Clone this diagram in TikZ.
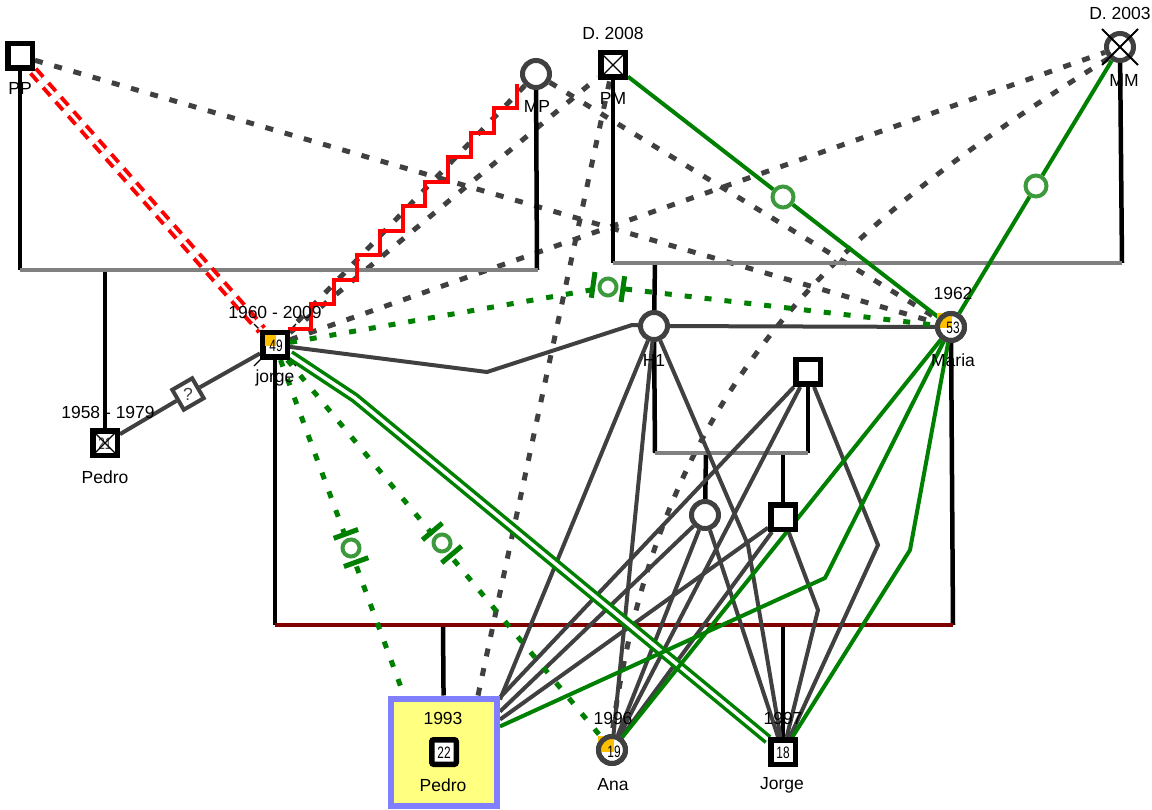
\documentclass[tikz,border=0pt]{standalone}
\usepackage{fontspec}
\usepackage{graphicx}
\setmainfont{Liberation Sans}
\usetikzlibrary{calc}
\pgfdeclarelayer{background}
\pgfsetlayers{background,main}

\definecolor{relgray}{HTML}{404040}
\definecolor{bargray}{HTML}{808080}
\definecolor{grn}{HTML}{008000}
\definecolor{lgrn}{HTML}{3C9A3C}
\definecolor{orng}{HTML}{FFC000}
\definecolor{dkred}{HTML}{800000}
\definecolor{boxfill}{HTML}{FFFF80}
\definecolor{boxedge}{HTML}{8080FF}

\newcommand{\agetxt}[1]{\scalebox{0.72}[1]{#1}}

\tikzset{
  pics/tiesym/.style={code={
    \draw[lgrn, line width=4pt, fill=white] (0,0) circle (8.5);
    \draw[grn, line width=5pt] (-15,-13) -- (-15,13);
    \draw[grn, line width=5pt] (15,-13) -- (15,13);
  }}
}

\begin{document}
\begin{tikzpicture}[x=1pt,y=-1pt,
  lbl/.style={font=\fontsize{17.5}{17.5}\selectfont, inner sep=0pt, text=black},
  num/.style={font=\fontsize{16.5}{16.5}\selectfont, inner sep=0pt, text=black},
  male/.style={rectangle, draw=black, line width=5.5pt, fill=white, minimum size=24.5pt, inner sep=0pt},
  female/.style={circle, draw=relgray, line width=5pt, fill=white, minimum size=27pt, inner sep=0pt},
  ring/.style={circle, draw=lgrn, line width=4pt, fill=white, minimum size=21pt, inner sep=0pt},
  kin/.style={black, line width=4.5pt},
  sib/.style={bargray, line width=4.5pt},
  rel/.style={relgray, line width=4pt},
  tie/.style={grn, line width=4pt},
  far/.style={relgray, line width=5pt, dash pattern=on 8pt off 12pt},
  gdot/.style={grn, line width=5pt, dash pattern=on 7pt off 13pt},
  cross/.style={black, line width=1.3pt},
]
\useasboundingbox (0,0) rectangle (1152,810);

% ---------- persons ----------
\node[male] (PP) at (20,56) {};
\node[lbl] (PPl) at (20,88) {PP};

\node[female] (MP) at (536,74) {};
\node[lbl] (MPl) at (537,106) {MP};

\node[male] (PM) at (613,65) {};
\draw[cross] ($(PM)+(-11,-11)$) -- ($(PM)+(11,11)$) ($(PM)+(11,-11)$) -- ($(PM)+(-11,11)$);
\node[lbl] (PMd) at (613,33) {D. 2008};
\node[lbl] (PMl) at (613,98) {PM};

\node[female] (MM) at (1120,47) {};
\draw[cross, line width=1.8pt] (1102,29) -- (1138,65) (1138,29) -- (1102,65);
\node[lbl] (MMd) at (1120,13) {D. 2003};
\node[lbl] (MMl) at (1124,80) {MM};

\node[male] (PE) at (105,443) {};
\node[num, text=relgray] (PEn) at (105,444) {\agetxt{21}};
\draw[cross] ($(PE)+(-11,-11)$) -- ($(PE)+(11,11)$) ($(PE)+(11,-11)$) -- ($(PE)+(-11,11)$);
\node[lbl] (PEd) at (108,412) {1958 - 1979};
\node[lbl] (PEl) at (105,477) {Pedro};

\node[male] (JO) at (275,345) {};
\fill[orng] ($(JO)+(-10,-10)$) rectangle ($(JO)+(1,1)$);
\node[num] (JOn) at (276,346) {\agetxt{49}};
\node[lbl] (JOd) at (275,312) {1960 - 2009};
\node[lbl] (JOl) at (275,378) {jorge};

\node[female] (MA) at (951,327) {};
\fill[orng] ($(MA)+(-14,-14)$) rectangle ($(MA)+(1,1)$);
\draw[relgray, line width=5pt] (MA.center) circle (13.5);
\node[num] (MAn) at (953,328) {\agetxt{53}};
\node[lbl] (MAd) at (953,293) {1962};
\node[lbl] (MAl) at (953,360) {Maria};

\node[female] (H1) at (654,326) {};
\node[lbl] (H1l) at (654,360) {H1};

\node[male] (SQ) at (808,372) {};
\node[female] (CI) at (705,515) {};
\node[male] (SQB) at (783,517) {};

\node[draw=boxedge, fill=boxfill, line width=6pt, minimum width=106pt, minimum height=107pt, inner sep=0pt] (BOX) at (444,752) {};
\node[lbl] (BOXd) at (443,718) {1993};
\node[male, rounded corners=2pt] (PB) at (444,752) {};
\node[num] (PBn) at (444,753) {\agetxt{22}};
\node[lbl] (PBl) at (443,785) {Pedro};

\node[female] (AN) at (612,750) {};
\fill[orng] ($(AN)+(-14,-14)$) rectangle ($(AN)+(2,2)$);
\draw[relgray, line width=5pt] (AN.center) circle (13.5);
\node[num] (ANn) at (614,752) {\agetxt{19}};
\node[lbl] (ANd) at (613,718) {1996};
\node[lbl] (ANl) at (613,785) {Ana};

\node[male] (JB) at (783,752) {};
\node[num] (JBn) at (783,753) {\agetxt{18}};
\node[lbl] (JBd) at (783,718) {1997};
\node[lbl] (JBl) at (782,785) {Jorge};

\node[rectangle, draw=relgray, line width=4pt, fill=white, minimum size=23pt, rotate=30] (QM) at (188,394) {};
\node[lbl, text=relgray] (QMt) at (188,394) {?};

% ring markers on the green ties
\node[ring] (R1) at (783,197) {};
\node[ring] (R2) at (1036,186) {};

% tie symbols on the dotted green links
\pic[rotate=-8] at (608,287) {tiesym};
\pic[rotate=-70] at (351,548) {tiesym};
\pic[rotate=-50] at (442,543) {tiesym};

% ---------- connectors ----------
\begin{pgfonlayer}{background}
\fill[white] (0,0) rectangle (1152,810);

% bars
\coordinate (b1l) at (20,270);   \coordinate (b1r) at (538,270);
\coordinate (b2l) at (613,263);  \coordinate (b2r) at (1122,263);
\coordinate (b3l) at (655,453);  \coordinate (b3r) at (808,453);
\coordinate (b4l) at (275,625);  \coordinate (b4r) at (953,625);

% deceased marks behind jorge
\draw[cross] ($(JO)+(-21,-21)$) -- ($(JO)+(21,21)$) ($(JO)+(21,-21)$) -- ($(JO)+(-21,21)$);

% dotted distant links
\draw[far] (PP) -- (MA);
\draw[far] (MP) -- (MA);
\draw[far] (MP) -- (JO);
\draw[far] (JO) -- (PM);
\draw[far] ($(BOX.north)+(34,0)$) -- (PM);
\draw[far] (JO) -- (MM);
\draw[far] (MM.south west) .. controls (840,225) and (660,380) .. (AN.north);

% kinship lines
\draw[kin] (PP) -- (b1l);
\draw[kin] (MP) -- (537,270);
\draw[kin] (105,270) -- (PE);
\draw[kin] (PM) -- (b2l);
\draw[kin] (MM) -- (b2r);
\draw[kin] (655,263) -- (H1);
\draw[kin] (H1) -- (b3l);
\draw[kin] (SQ) -- (b3r);
\draw[kin] (706,453) -- (CI);
\draw[kin] (783,453) -- (SQB);
\draw[kin] (JO) -- (b4l);
\draw[kin] (MA) -- (b4r);
\draw[kin] (443,625) -- (BOX);
\draw[kin] (783,625) -- (JB);
\draw[sib] (b1l) -- (b1r);
\draw[sib] (b2l) -- (b2r);
\draw[sib] (b3l) -- (b3r);
\draw[dkred, line width=4.5pt] (b4l) -- (b4r);

% relationship lines
\draw[rel] (JO) -- (487,372) -- (632,325) -- (H1);
\draw[rel] (H1) -- (MA);
\draw[rel] (PE) -- (QM) -- (JO);

% emotional links from the middle generation
\draw[rel] (H1) -- ($(BOX.north east)+(0,4)$);
\draw[rel] (H1) -- (AN);
\draw[rel] (H1) -- (748,545) -- (JB);
\draw[rel] (SQ) -- ($(BOX.north east)+(0,2)$);
\draw[rel] (SQ) -- (AN);
\draw[rel] (SQ) -- (878,545) -- (JB);
\draw[rel] (CI) -- ($(BOX.north east)+(0,16)$);
\draw[rel] (CI) -- (AN);
\draw[rel] (CI) -- (JB);
\draw[rel] (SQB) -- ($(BOX.north east)+(0,24)$);
\draw[rel] (SQB) -- (AN);
\draw[rel] (SQB) -- (818,610) -- (JB);

% green ties
\draw[tie] (PM) -- (R1) -- (MA);
\draw[tie] (MM) -- (R2) -- (MA);
\draw[tie, line width=3.5pt, double=white, double distance=3.5pt] (JO) -- (355,398) -- (JB);
\draw[tie] (BOX) -- (825,578) -- (MA);
\draw[tie] (AN) -- (MA);
\draw[tie] (JB) -- (910,550) -- (MA);

% dotted green links
\draw[gdot] (JO) -- (608,287) -- (MA);
\draw[gdot] (JO) -- ($(BOX.north west)+(16,0)$);
\draw[gdot] (JO) -- (AN);

% red links
\draw[red, line width=4pt, double=white, double distance=3pt, dash pattern=on 11pt off 8pt] (PP) -- (JO);
\draw[red, line width=4pt] ($(MP)+(-19,10)$) \foreach \i in {1,...,10}{ -- ++(0,24.5) -- ++(-22.9,0)};
\end{pgfonlayer}
\end{tikzpicture}
\end{document}
